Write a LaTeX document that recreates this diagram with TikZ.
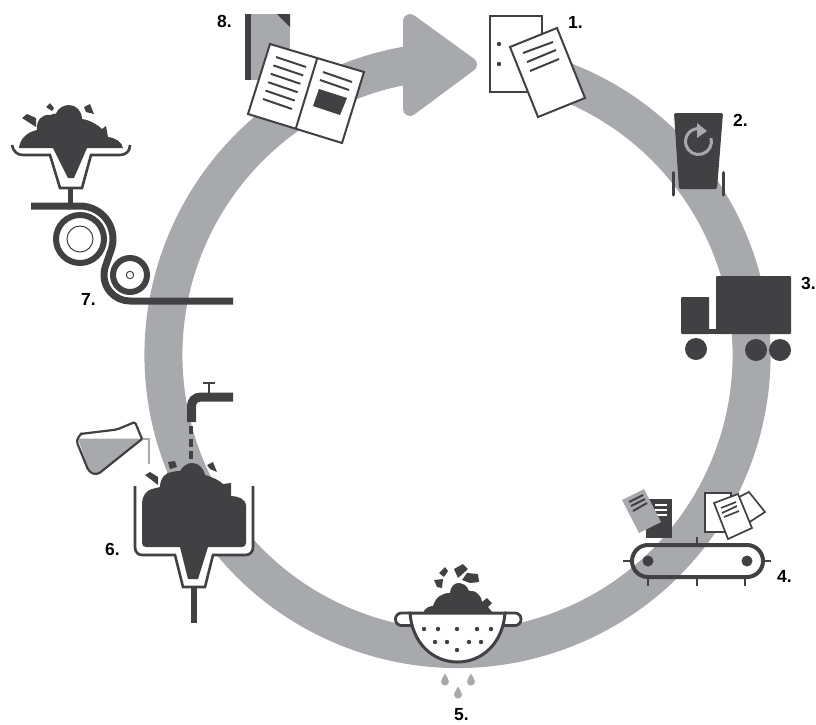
\documentclass[tikz,border=0pt]{standalone}
\usepackage{fontspec}
\setmainfont{Liberation Sans}
\definecolor{ringgray}{HTML}{A7A9AC}
\definecolor{ink}{HTML}{414042}
\tikzset{
  numlabel/.style={font=\bfseries\fontsize{17.5}{18}\selectfont,text=black,inner sep=0pt,anchor=base west},
  sheet/.style={fill=white,draw=ink,line width=2pt,line join=miter},
  rule/.style={draw=ink,line width=2pt},
  chip/.style={fill=ink,draw=none,rounded corners=0.4pt},
}
\begin{document}
\begin{tikzpicture}[x=1pt,y=1pt,yscale=-1]
\useasboundingbox (0,0) rectangle (816,724);
% ring with arrow head
\begin{scope}[shift={(457.5,355)}]
  \draw[ringgray,line width=38pt] (-69:294pt) arc[start angle=-69,end angle=260,radius=294pt];
\end{scope}
\fill[ringgray,draw=ringgray,line width=14pt,line join=round] (410,21) -- (470,64.5) -- (410,109) -- cycle;

% 8 book
\fill[ringgray] (251,14) rectangle (290,80);
\fill[ink] (245,14) rectangle (251,80);
\fill[ink] (277,14) -- (290,14) -- (290,27) -- cycle;
\draw[sheet] (270,44) -- (364,72) -- (342,143) -- (248,114) -- cycle;
\draw[ink,line width=2pt] (317,59) -- (296,128);
\foreach \i in {0,...,5}{
  \draw[rule] ({276-2.6*\i},{57+8.4*\i}) -- ({306-2.8*\i},{67+8.4*\i});
}
\draw[rule] (323,72) -- (352,82);
\draw[rule] (320,80) -- (349,90);
\fill[ink] (319,89) -- (347,98) -- (340,115) -- (313,106) -- cycle;

% 1 documents
\draw[sheet] (490,16) rectangle (542,92);
\fill[ink] (499,44) circle[radius=2.2pt] (499,64) circle[radius=2.2pt];
\draw[sheet] (510,47) -- (557,28) -- (585,98) -- (538,117) -- cycle;
\draw[rule] (523,53) -- (553,42);
\draw[rule] (527,62) -- (556,50);
\draw[rule] (530,71) -- (559,59);

% 2 bin
\fill[ink,rounded corners=1.5pt] (674,113) -- (723,113) -- (717,189) -- (679,189) -- cycle;
\draw[ink,line width=3pt,line cap=round] (673.5,172.5) -- (673.5,195);
\draw[ink,line width=3pt,line cap=round] (723.5,172.5) -- (723.5,195);
\begin{scope}[shift={(698.5,141.5)}]
  \draw[ringgray,line width=3pt] (-15:13pt) arc[start angle=-15,end angle=275,radius=13pt];
\end{scope}
\fill[ringgray] (697,123) -- (707,131) -- (697,138) -- cycle;

% 3 truck
\fill[ink,rounded corners=1pt] (716,276) rectangle (791,334);
\fill[ink,rounded corners=1pt] (681,297) rectangle (709,334);
\fill[ink] (708,329) rectangle (717,334);
\fill[ink] (696,349) circle[radius=11pt] (756,350) circle[radius=11pt] (780,350) circle[radius=11pt];

% 4 conveyor
\fill[ink] (646,499) rectangle (672,538);
\draw[white,line width=2pt] (655,505) -- (667,505) (655,510) -- (667,510) (655,515) -- (667,515);
\fill[ringgray] (622,500) -- (644,489) -- (661,522) -- (639,533) -- cycle;
\draw[rule] (629,502) -- (643,495);
\draw[rule] (631,506) -- (645,499);
\draw[rule] (633,511) -- (647,503);
\draw[sheet,line width=1.7pt] (705,493) rectangle (731,532);
\draw[sheet,line width=1.7pt] (733,500) -- (749,492) -- (765,512) -- (748,523) -- cycle;
\draw[sheet,line width=1.7pt] (714,503) -- (738,494) -- (752,528) -- (728,539) -- cycle;
\draw[ink,line width=1.7pt] (721,508) -- (736,502) (722,513) -- (737,506) (724,517) -- (739,511);
\draw[ink,line width=4pt,rounded corners=16pt] (632,545) rectangle (763,577);
\draw[ink,line width=1.3pt] (697,537) -- (697,543) (623,561) -- (630,561) (765,561) -- (771,561)
  (648,579) -- (648,586) (697,579) -- (697,586) (745,579) -- (745,586);
\fill[ink] (648,561) circle[radius=5.5pt] (747,561) circle[radius=5.5pt];

% 5 colander
\fill[ink] (423,613) .. controls (425,608) and (429,606) .. (433,606)
  .. controls (435,600) and (438,596) .. (442,595) .. controls (445,593) and (448,593) .. (450,593)
  .. controls (450,588) and (454,583) .. (458,583) .. controls (463,583) and (466,586) .. (467,587)
  .. controls (468,590) and (469,591) .. (470,591) .. controls (474,591) and (477,592) .. (478,594)
  .. controls (481,597) and (482,600) .. (482,602) -- (487,598) -- (492,603) -- (488,607) -- (493,613) -- cycle;
\draw[ink,line width=2.8pt,fill=white,rounded corners=6pt] (411,613) -- (395.5,613) -- (395.5,625.5) -- (413,625.5);
\draw[ink,line width=2.8pt,fill=white,rounded corners=6pt] (504,613) -- (521,613) -- (521,625.5) -- (502,625.5);
\draw[ink,line width=3pt,fill=white] (410,613) .. controls (412,642) and (432,662) .. (457.5,662)
  .. controls (483,662) and (503,642) .. (505,613) -- cycle;
\foreach \p in {(424,629),(438,629),(457,629),(477,629),(491,629),(435,642),(447,642),(469,642),(481,642),(457,650)}
  \fill[ink] \p circle[radius=2.2pt];
\fill[chip] (434,580) -- (443,579) -- (442,588) -- (437,587) -- cycle;
\fill[chip] (439,573) -- (445,567) -- (448,571) -- (444,577) -- cycle;
\fill[chip] (454,569) -- (463,564) -- (468,569) -- (458,578) -- cycle;
\fill[chip] (462,580) -- (467,573) -- (478,574) -- (479,582) -- (470,583) -- cycle;
\foreach \c in {(445,680),(471,680),(458,693)}{
  \fill[ringgray,shift={\c}] (0,-6.5) .. controls (1,-3.5) and (4,-1.5) .. (4,1.5)
    .. controls (4,4) and (2,5.5) .. (0,5.5) .. controls (-2,5.5) and (-4,4) .. (-4,1.5)
    .. controls (-4,-1.5) and (-1,-3.5) .. (0,-6.5) -- cycle;
}

% 6 tub, tap, flask
\fill[white] (135,486) -- (135,547) .. controls (135,552) and (138,555) .. (142,555) -- (175,555) -- (183,587)
  -- (205,587) -- (213,555) -- (245,555) .. controls (250,555) and (253,552) .. (253,547) -- (253,486) -- cycle;
\draw[ink,line width=2.6pt] (135,486) -- (135,547) .. controls (135,552) and (138,555) .. (142,555) -- (175,555) -- (183,587)
  -- (205,587) -- (213,555) -- (245,555) .. controls (250,555) and (253,552) .. (253,547) -- (253,486);
\fill[ink] (191,587) rectangle (197,623);
\fill[ink] (180,547) -- (146,547) .. controls (143.5,547) and (142,545.5) .. (142,543) -- (142,503)
  .. controls (142,496) and (147,490) .. (152,489) -- (160,487)
  .. controls (160,478) and (166,472) .. (172,472) .. controls (175,471) and (178,471) .. (180,471)
  .. controls (183,466) and (187,463) .. (192,463) .. controls (198,463) and (203,467) .. (205,475)
  .. controls (212,477) and (219,480) .. (223,484) -- (231,483) -- (231,496)
  .. controls (238,496) and (246,499) .. (246,506) -- (246,543) .. controls (246,545.5) and (244.5,547) .. (242,547)
  -- (208,547) -- (198,579) -- (188,579) -- cycle;
\fill[chip] (145,475) -- (150,472) -- (158,477) -- (158,485) -- cycle;
\fill[chip] (168,462) -- (175,461) -- (177,467) -- (170,469) -- cycle;
\fill[chip] (207,465) -- (213,462) -- (217,472) -- (210,469) -- cycle;
\draw[ink,line width=9pt] (233,397) -- (201,397) .. controls (195,397) and (191.5,401) .. (191.5,406) -- (191.5,422);
\draw[ink,line width=2.5pt] (209,383) -- (209,393);
\draw[ink,line width=2pt] (203,383) -- (215,383);
\draw[ink,line width=3.5pt,dash pattern=on 8pt off 4.5pt] (191,426) -- (191,462);
\fill[ringgray] (78,438.5) -- (142,438.5) -- (100,472) -- (93,474) -- (88,468) -- cycle;
\draw[ringgray,line width=2.8pt] (142,439) -- (149,439) -- (149,464);
\draw[ink,line width=2.2pt,line join=round,rounded corners=4pt] (82,433) -- (76,440) -- (89,472) -- (97,475) -- (142,439);
\draw[ink,line width=2.2pt,line join=round,rounded corners=2pt] (80,434) -- (117,429.5) -- (135,422) -- (142,439);

% 7 filter and rollers
\fill[ink] (19,148) .. controls (20,138) and (28,132) .. (37,130)
  .. controls (36,120) and (42,114) .. (50,115) .. controls (52,114) and (54,114) .. (56,113.5)
  .. controls (58,108) and (64,105) .. (69,105) .. controls (76,105) and (82,111) .. (82,119)
  .. controls (90,120) and (98,125) .. (102,129) -- (106,126) -- (108,137)
  .. controls (116,138) and (122,142) .. (123,148)
  -- (87,148) -- (74,178) -- (68,178) -- (53,148) -- cycle;
\fill[chip] (22,118) -- (27,114) -- (36,118) -- (36,127) -- cycle;
\fill[chip] (46,107) -- (50,103) -- (54,108) -- (52,111) -- cycle;
\fill[chip] (84,107) -- (90,104) -- (94,114) -- (86,112) -- cycle;
\draw[ink,line width=2.6pt] (12,145) .. controls (13,151) and (17,155) .. (23,155) -- (50,155) -- (60,188) -- (82,188)
  -- (91,155) -- (120,155) .. controls (126,155) and (130,151) .. (130,145);
\fill[ink] (68,188) rectangle (73,203);
\draw[ink,line width=7pt] (31,206) -- (80,206) arc[start angle=-90,end angle=19.1,radius=33pt]
  -- (105.4,266.5) arc[start angle=199.1,end angle=90,radius=26pt] -- (233,301);
\draw[ink,line width=6pt] (80,239) circle[radius=24pt];
\draw[ink,line width=1pt] (80,239) circle[radius=13pt];
\draw[ink,line width=6pt] (130,275) circle[radius=17pt];
\draw[ink,line width=1pt] (130,275) circle[radius=3.7pt];

% labels
\node[numlabel] (n1) at (568,28) {1.};
\node[numlabel] (n2) at (733,126) {2.};
\node[numlabel] (n3) at (801,289) {3.};
\node[numlabel] (n4) at (777,582) {4.};
\node[numlabel] (n5) at (454,720.5) {5.};
\node[numlabel] (n6) at (105,555) {6.};
\node[numlabel] (n7) at (81,305) {7.};
\node[numlabel] (n8) at (217,27) {8.};
\end{tikzpicture}
\end{document}
